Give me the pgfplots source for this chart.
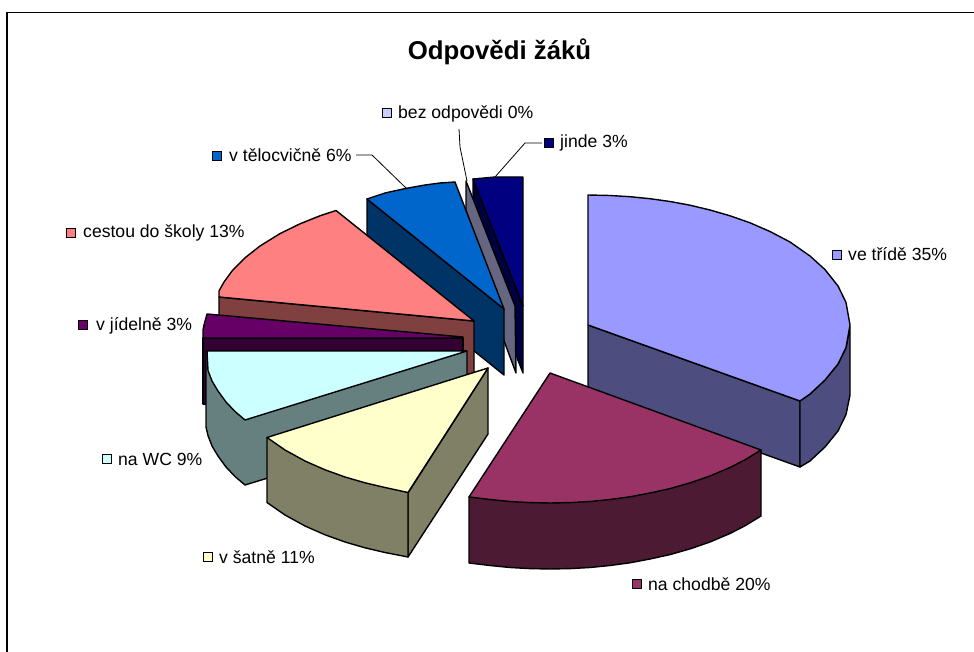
\documentclass[border=0pt]{standalone}
\usepackage{fontspec}
\setmainfont{Liberation Sans}
\usepackage{pgfplots}
\pgfplotsset{compat=1.18}
\definecolor{viol}{HTML}{9999FF}\definecolor{violD}{HTML}{4D4D80}
\definecolor{mar}{HTML}{993366}\definecolor{marD}{HTML}{4D1A33}
\definecolor{yel}{HTML}{FFFFCC}\definecolor{yelD}{HTML}{808066}
\definecolor{cya}{HTML}{CCFFFF}\definecolor{cyaD}{HTML}{668080}
\definecolor{pur}{HTML}{660066}\definecolor{purD}{HTML}{330033}
\definecolor{sal}{HTML}{FF8080}\definecolor{salD}{HTML}{804040}
\definecolor{blu}{HTML}{0066CC}\definecolor{bluD}{HTML}{003366}
\definecolor{lil}{HTML}{CCCCFF}\definecolor{lilD}{HTML}{666680}
\definecolor{nav}{HTML}{000080}\definecolor{navD}{HTML}{000040}
\begin{document}
\begin{tikzpicture}[x=1pt,y=1pt]
\begin{axis}[scale only axis,width=974pt,height=652pt,xmin=0,xmax=974,ymin=0,ymax=652,y dir=reverse,
 hide axis,clip=false,
 poly/.style={draw=black,line width=1.4pt,line join=round,fill=#1},
 leg/.style={only marks,mark=square*,mark size=4.5pt,mark options={fill=#1,draw=black,line width=1.2pt}},
 lead/.style={draw=black,line width=0.8pt}]
\path[use as bounding box] (axis cs:0,0) rectangle (axis cs:974,652);
% frame
\addplot[black,line width=1.2pt] coordinates {(7,652)(7,12.5)(974,12.5)};
% jinde
\addplot[poly=navD] coordinates {(473,179)(523,306)(523,373)(512,345)(473,205)} --cycle;
\addplot[poly=nav] coordinates {(473,179)(495,177)(523,177)(523,306)} --cycle;
% bez odpovedi
\addplot[poly=lilD] coordinates {(466,181)(515,306)(516,373)(500,330)(466,210)} --cycle;
% v telocvicne
\addplot[poly=bluD] coordinates {(367,199)(504,309)(504,375)(367,265)} --cycle;
\addplot[poly=blu] coordinates {(367,199)(385,193)(405,188.6)(425,185)(440,183)(455,182)(504,309)} --cycle;
% cestou do skoly
\addplot[poly=salD] coordinates {(219,297)(474,321)(474,385)(219,361)} --cycle;
\addplot[poly=sal] coordinates {(219,297)(219,291)(224,282)(232,271)(245,257.8)(260,246)(280,233.6)(300,223.8)(320,215.8)(336,210.5)(474,321)} --cycle;
% v jidelne
\addplot[poly=purD] coordinates {(203,338)(463,338)(463,404)(203,404)} --cycle;
\addplot[poly=pur] coordinates {(203,338)(203,330)(204,325)(207,314)(463,337)(463,338)} --cycle;
% na WC
\addplot[poly=cyaD] coordinates {(206,351)(467,351)(467,417)(245,485)(235,476.5)(226,467)(218,456)(212,446)(208,435.6)(206,427)} --cycle;
\addplot[poly=cya] coordinates {(207,351)(467,351)(245,420)(235,411.5)(226,402)(218,391)(212,381)(208,370.6)} --cycle;
% v satne
\addplot[poly=yelD] coordinates {(408,493)(488,368)(488,434)(408,557)} --cycle;
\addplot[poly=yelD] coordinates {(267,437.5)(267,502.5)(285,515)(305,526)(325,534.8)(345,542)(365,547.8)(385,552.5)(408,557)(408,492.5)} --cycle;
\addplot[poly=yel] coordinates {(488,368)(267,437.5)(285,450)(305,461)(325,469.8)(345,477)(365,482.8)(385,487.5)(408,492.5)} --cycle;
% ve tride
\addplot[poly=violD] coordinates {(588,325)(800,401)(800,467)(588,391)} --cycle;
\addplot[poly=violD] coordinates {(800,401)(810,394)(825,380)(838,364)(846,347.6)(850,327)(850,395)(846,414.6)(838,431)(825,447)(810,461)(800,467)} --cycle;
\addplot[poly=viol] coordinates {(588,325)(588,195)(610,195.5)(630,196.7)(650,198.7)(670,201.5)(690,205.2)(710,210)(730,215.8)(750,222.8)(770,231.5)(790,242)(810,256)(825,269.6)(838,286)(846,302.4)(850,325)(846,347.6)(838,364)(825,380)(810,394)(800,401)} --cycle;
% na chodbe
\addplot[poly=marD] coordinates {(469,497)(469,563)(490,565.5)(510,567.5)(530,568.6)(550,569)(570,568.6)(590,567.5)(610,565.5)(630,562.8)(650,559)(670,554.6)(690,548.9)(710,542)(730,533.5)(745,525.8)(761,516)(761,450)} --cycle;
\addplot[poly=mar] coordinates {(550,373)(761,450)(745,459.8)(730,467.5)(710,476)(690,482.9)(670,488.6)(650,493)(630,496.8)(610,499.5)(590,501.5)(570,502.6)(550,503)(530,502.6)(510,501.5)(490,499.5)(469,497)} --cycle;
% leader lines
\addplot[lead] coordinates {(356,155)(372,155)(407,189)};
\addplot[lead] coordinates {(459,129)(460,147)(467,181)};
\addplot[lead] coordinates {(542,143)(525,143)(495,177)};
% legend keys
\addplot[leg=viol] coordinates {(837,255)};
\addplot[leg=mar] coordinates {(637,584)};
\addplot[leg=yel] coordinates {(208,557)};
\addplot[leg=cya] coordinates {(107,459)};
\addplot[leg=pur] coordinates {(83,325)};
\addplot[leg=sal] coordinates {(71,233)};
\addplot[leg=blu] coordinates {(217,156)};
\addplot[leg=lil] coordinates {(387,113)};
\addplot[leg=nav] coordinates {(549,143)};
% text
\tikzset{lab/.style={anchor=west,inner sep=0pt,font=\fontsize{17.6}{20}\selectfont}}
\node[lab] at (axis cs:848,254.5) {ve třídě 35\%};
\node[lab] at (axis cs:648,584.5) {na chodbě 20\%};
\node[lab] at (axis cs:219,557.5) {v šatně 11\%};
\node[lab] at (axis cs:118,459.5) {na WC 9\%};
\node[lab] at (axis cs:96,325.5) {v jídelně 3\%};
\node[lab] at (axis cs:83,232.5) {cestou do školy 13\%};
\node[lab] at (axis cs:229,155.5) {v tělocvičně 6\%};
\node[lab] at (axis cs:398,113.5) {bez odpovědi 0\%};
\node[lab] at (axis cs:560,142.5) {jinde 3\%};
\node[anchor=center,inner sep=0pt,font=\fontsize{25.8}{28}\selectfont\bfseries] at (axis cs:499.5,52) {Odpovědi žáků};
\end{axis}
\end{tikzpicture}
\end{document}
